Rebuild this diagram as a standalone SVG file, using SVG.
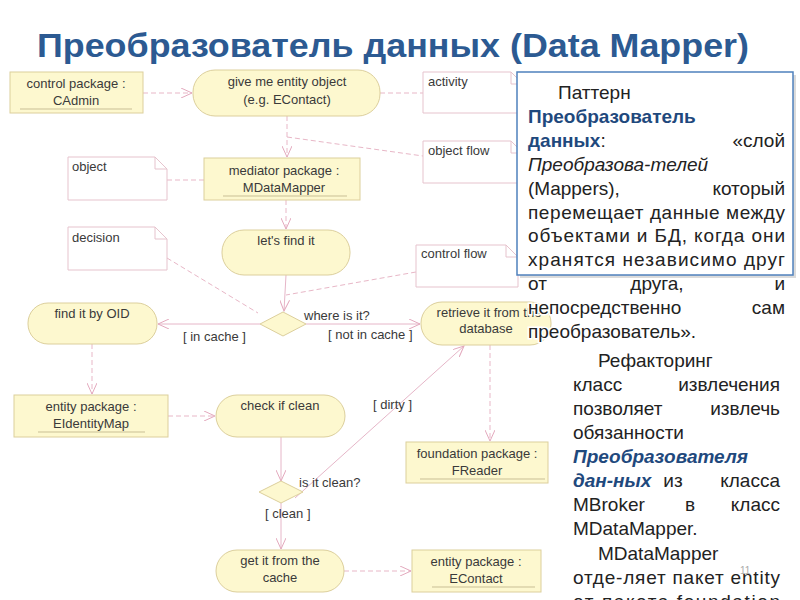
<svg xmlns="http://www.w3.org/2000/svg" width="800" height="600" viewBox="0 0 800 600">
<defs>
<marker id="arr" viewBox="0 0 12 10" refX="11" refY="5" markerWidth="12" markerHeight="10" markerUnits="userSpaceOnUse" orient="auto">
<path d="M0,0 L11,5 L0,10" fill="none" stroke="#e3a9bd" stroke-width="1"/>
</marker>
</defs>
<style>
.box{fill:#fdf8cf;stroke:#dccf9c;stroke-width:1}
.pill{fill:#fdf8cf;stroke:#dccf9c;stroke-width:1}
.note{fill:#fff;stroke:#e6c3cd;stroke-width:1}
.ul{stroke:#c9bf95;stroke-width:1}
.t{font-family:"Liberation Sans",Arial,sans-serif;font-size:13px;fill:#3a3a3a}
.c{text-anchor:middle}
.dash{fill:none;stroke:#e8b7c7;stroke-width:1;stroke-dasharray:5,3}
.sol{fill:none;stroke:#e6b6c8;stroke-width:1}
.title{font-family:"Liberation Sans",Arial,sans-serif;font-size:33px;font-weight:bold;fill:#2c5a92}
.p{font-family:"Liberation Sans",Arial,sans-serif;font-size:19px;fill:#222}
.hb{font-weight:bold;fill:#1f497d}
.halo{stroke:#fff;stroke-width:3;paint-order:stroke}
</style>
<rect width="800" height="600" fill="#fff"/>
<text class="title" x="37" y="57" textLength="712" lengthAdjust="spacingAndGlyphs">Преобразователь данных (Data Mapper)</text>

<g id="connectors">
<line class="dash" x1="143" y1="93" x2="192" y2="93" marker-end="url(#arr)"/>
<line class="dash" x1="380" y1="93" x2="423" y2="93"/>
<line class="dash" x1="287" y1="116" x2="287" y2="157" marker-end="url(#arr)"/>
<line class="dash" x1="287" y1="137" x2="423" y2="156"/>
<line class="dash" x1="167" y1="180" x2="204" y2="180"/>
<line class="dash" x1="286" y1="200" x2="286" y2="229" marker-end="url(#arr)"/>
<line class="sol" x1="286" y1="275" x2="284" y2="311" marker-end="url(#arr)"/>
<line class="dash" x1="167" y1="258" x2="258" y2="313"/>
<line class="dash" x1="416" y1="272" x2="286" y2="295"/>
<line class="sol" x1="260" y1="324" x2="158" y2="324" marker-end="url(#arr)"/>
<line class="sol" x1="306" y1="324" x2="420" y2="324" marker-end="url(#arr)"/>
<line class="dash" x1="92" y1="344" x2="92" y2="394" marker-end="url(#arr)"/>
<line class="dash" x1="168" y1="416" x2="215" y2="416" marker-end="url(#arr)"/>
<line class="sol" x1="281" y1="437" x2="281" y2="481" marker-end="url(#arr)"/>
<line class="sol" x1="295" y1="498" x2="464" y2="346" marker-end="url(#arr)"/>
<line class="sol" x1="281" y1="503" x2="281" y2="549" marker-end="url(#arr)"/>
<line class="dash" x1="490" y1="345" x2="490" y2="441" marker-end="url(#arr)"/>
<line class="dash" x1="344" y1="571" x2="411" y2="571" marker-end="url(#arr)"/>
</g>

<g id="n_cadmin"><rect class="box" x="10" y="72" width="133" height="41"/><text class="t c" x="76" y="88">control package :</text><text class="t c" x="76" y="105">CAdmin</text><line class="ul" x1="20" y1="109" x2="132" y2="109"/></g>
<g id="n_give"><rect class="pill" x="193" y="70" width="187" height="46" rx="22"/><text class="t c" x="287" y="86">give me entity object</text><text class="t c" x="287" y="104">(e.g. EContact)</text></g>
<g id="n_activity"><path class="note" d="M423,72 H511 L523,84 V113 H423 Z M511,72 V84 H523"/><text class="t" x="428" y="86">activity</text></g>
<g id="n_objflow"><path class="note" d="M423,141 H511 L523,153 V183 H423 Z M511,141 V153 H523"/><text class="t" x="428" y="155">object flow</text></g>
<g id="n_mediator"><rect class="box" x="204" y="158" width="156" height="42"/><text class="t c" x="284" y="175">mediator package :</text><text class="t c" x="284" y="192">MDataMapper</text><line class="ul" x1="223" y1="196" x2="347" y2="196"/></g>
<g id="n_object"><path class="note" d="M68,157 H155 L167,169 V200 H68 Z M155,157 V169 H167"/><text class="t" x="72" y="171">object</text></g>
<g id="n_decision"><path class="note" d="M68,227 H155 L167,239 V270 H68 Z M155,227 V239 H167"/><text class="t" x="72" y="242">decision</text></g>
<g id="n_letsfind"><rect class="pill" x="222" y="230" width="128" height="45" rx="22"/><text class="t c" x="286" y="245">let's find it</text></g>
<g id="n_controlflow"><path class="note" d="M416,245 H506 L518,257 V287 H416 Z M506,245 V257 H518"/><text class="t" x="421" y="258">control flow</text></g>
<g id="n_findoid"><rect class="pill" x="28" y="303" width="129" height="41" rx="20"/><text class="t c" x="92" y="318">find it by OID</text></g>
<g id="n_dec1"><path class="pill" d="M260,324 L283,312 L306,324 L283,336 Z"/><text class="t" x="304" y="320">where is it?</text><text class="t" x="183" y="341">[ in cache ]</text><text class="t" x="328" y="339">[ not in cache ]</text></g>
<g id="n_retrieve"><rect class="pill" x="421" y="302" width="130" height="43" rx="21"/><text class="t c" x="489" y="317">retrieve it from the</text><text class="t c" x="486" y="333">database</text></g>
<g id="n_identity"><rect class="box" x="14" y="395" width="154" height="42"/><text class="t c" x="91" y="411">entity package :</text><text class="t c" x="91" y="428">EIdentityMap</text><line class="ul" x1="38" y1="432" x2="145" y2="432"/></g>
<g id="n_checkclean"><rect class="pill" x="216" y="395" width="129" height="42" rx="21"/><text class="t c" x="280" y="410">check if clean</text></g>
<g id="n_dec2"><path class="pill" d="M259,492 L281,481 L303,492 L281,503 Z"/><text class="t" x="373" y="409">[ dirty ]</text><text class="t" x="299" y="487">is it clean?</text><text class="t" x="265" y="518">[ clean ]</text></g>
<g id="n_freader"><rect class="box" x="406" y="442" width="142" height="41"/><text class="t c" x="477" y="458">foundation package :</text><text class="t c" x="477" y="475">FReader</text><line class="ul" x1="420" y1="479" x2="545" y2="479"/></g>
<g id="n_getcache"><rect class="pill" x="216" y="550" width="128" height="42" rx="21"/><text class="t c" x="280" y="565">get it from the</text><text class="t c" x="280" y="582">cache</text></g>
<g id="n_econtact"><rect class="box" x="412" y="550" width="129" height="42"/><text class="t c" x="476" y="566">entity package :</text><text class="t c" x="476" y="583">EContact</text><line class="ul" x1="432" y1="587" x2="535" y2="587"/></g>

<g id="textbox">
<rect x="520" y="75" width="276" height="203" fill="#999" opacity="0.35"/>
<rect x="517" y="72" width="276" height="203" fill="#fff" stroke="#4f81bd" stroke-width="1.5"/>
<text class="p" x="558" y="99">Паттерн</text>
<text class="p hb" x="528" y="123">Преобразователь</text>
<text class="p" x="528" y="147"><tspan class="hb">данных</tspan>:</text>
<text class="p" x="785" y="147" text-anchor="end">«слой</text>
<text class="p" x="528" y="171" font-style="italic">Преобразова-телей</text>
<text class="p" x="528" y="195">(Mappers),</text>
<text class="p" x="785" y="195" text-anchor="end">который</text>
<text class="p" x="528" y="219" textLength="257" lengthAdjust="spacing">перемещает данные между</text>
<text class="p" x="528" y="242" textLength="257" lengthAdjust="spacing">объектами и БД, когда они</text>
<text class="p" x="528" y="266" textLength="257" lengthAdjust="spacing">хранятся независимо друг</text>
<text class="p halo" x="528" y="290">от</text>
<text class="p halo" x="657" y="290" text-anchor="middle">друга,</text>
<text class="p halo" x="785" y="290" text-anchor="end">и</text>
<text class="p halo" x="528" y="314">непосредственно</text>
<text class="p halo" x="785" y="314" text-anchor="end">сам</text>
<text class="p halo" x="528" y="338">преобразователь».</text>
</g>
<g id="text2">
<text class="p" x="598" y="367">Рефакторинг</text>
<text class="p" x="573" y="391">класс</text>
<text class="p" x="780" y="391" text-anchor="end">извлечения</text>
<text class="p" x="573" y="415">позволяет</text>
<text class="p" x="780" y="415" text-anchor="end">извлечь</text>
<text class="p" x="573" y="439">обязанности</text>
<text class="p hb" x="573" y="463" font-style="italic">Преобразователя</text>
<text class="p hb" x="573" y="487" font-style="italic">дан-ных</text>
<text class="p" x="673" y="487" text-anchor="middle">из</text>
<text class="p" x="780" y="487" text-anchor="end">класса</text>
<text class="p" x="573" y="511">MBroker</text>
<text class="p" x="690" y="511" text-anchor="middle">в</text>
<text class="p" x="780" y="511" text-anchor="end">класс</text>
<text class="p" x="573" y="535">MDataMapper.</text>
<text class="p" x="598" y="560">MDataMapper</text>
<text class="p" x="573" y="584" textLength="207" lengthAdjust="spacing">отде-ляет пакет entity</text>
<text class="p" x="573" y="608" textLength="207" lengthAdjust="spacing">от пакета foundation</text>
<text x="740" y="574" font-family="Liberation Sans, Arial, sans-serif" font-size="10" fill="#aaa">11</text>
</g>
</svg>
